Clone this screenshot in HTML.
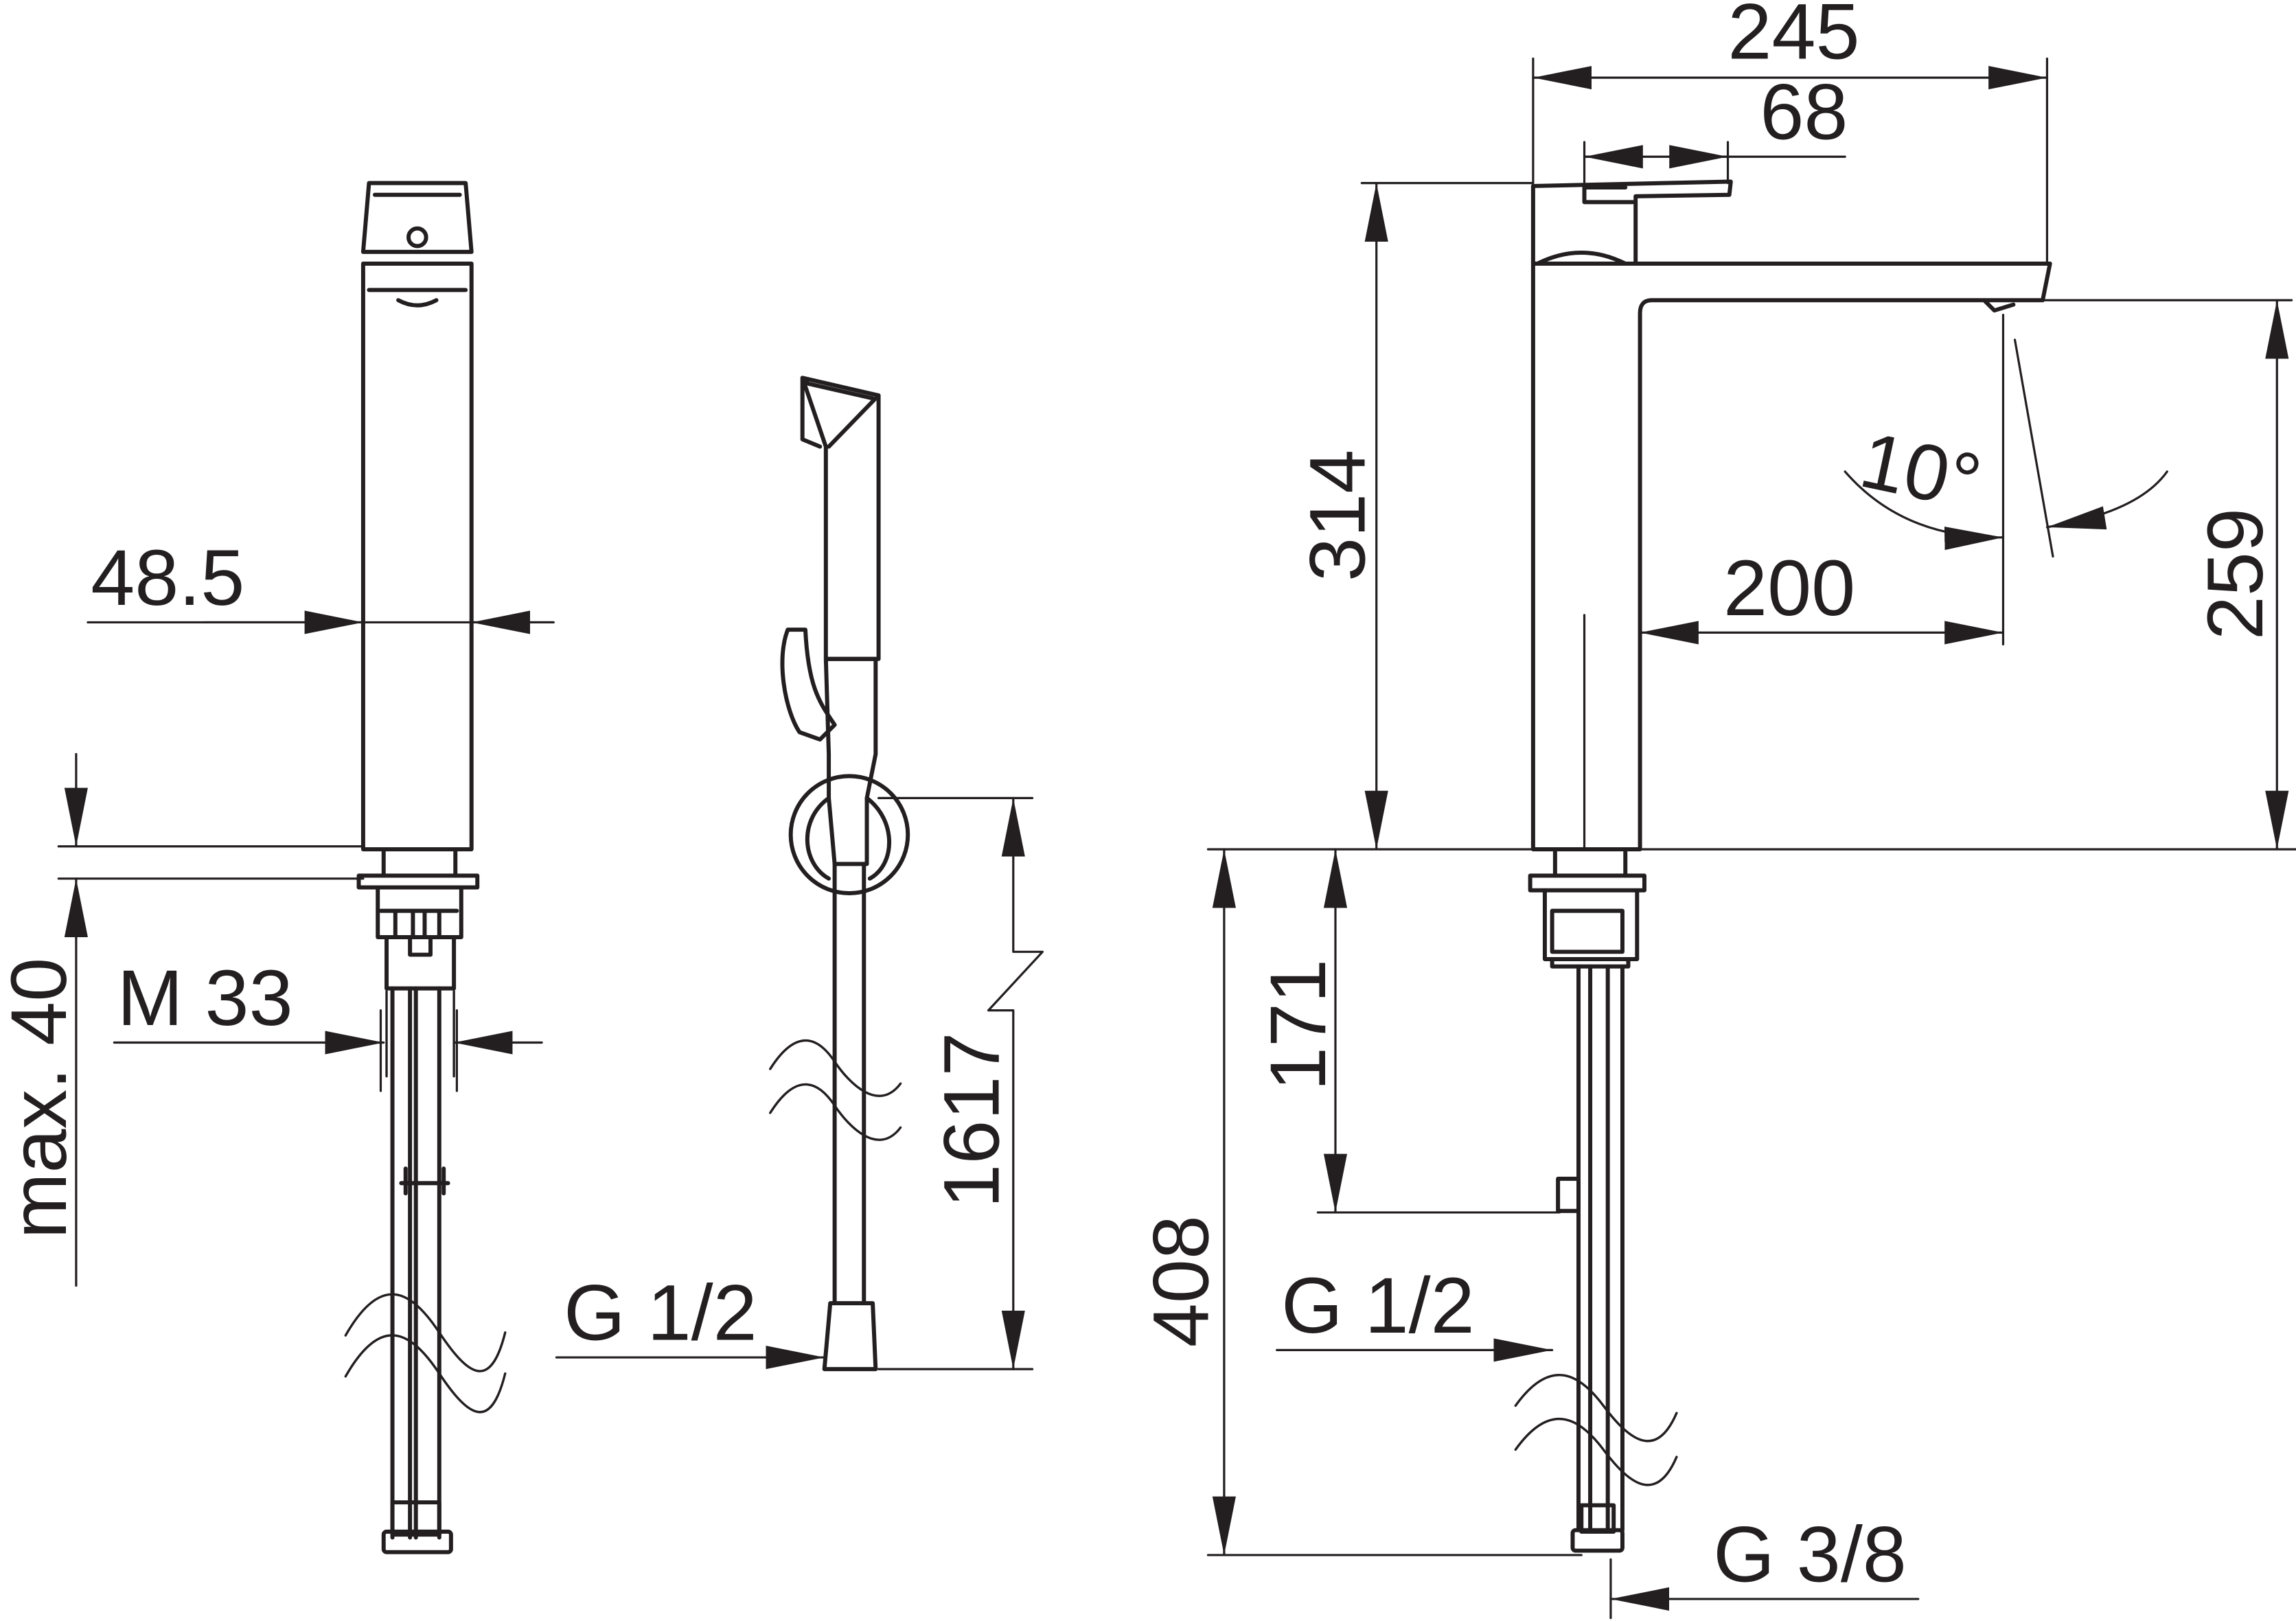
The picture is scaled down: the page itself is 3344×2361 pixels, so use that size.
<!DOCTYPE html>
<html><head><meta charset="utf-8"><style>
html,body{margin:0;padding:0;background:#fff}
svg{display:block}
text{font-family:"Liberation Sans",sans-serif;fill:#231f20}
</style></head><body>
<svg width="3344" height="2361" viewBox="0 0 1568 1107" xmlns="http://www.w3.org/2000/svg">
<defs>
<marker id="a" viewBox="0 0 40 16" refX="40" refY="8" markerWidth="40" markerHeight="18" markerUnits="userSpaceOnUse" orient="auto-start-reverse">
<path d="M0 0 L40 8 L0 16 Z" fill="#231f20"/></marker>
</defs>
<g fill="none" stroke="#231f20" stroke-linejoin="round" stroke-linecap="round">
<!-- ===== LEFT FAUCET ===== -->
<g stroke-width="2.8">
<path d="M252 125 L318 125 L322 172 L248 172 Z"/>
<path d="M256 133 L314 133"/>
<circle cx="285" cy="162" r="6"/>
<rect x="248" y="180" width="74" height="400"/>
<path d="M252 198 L318 198 M272 205 Q285 212 298 205"/>
<path d="M262 580 L262 598 M311 580 L311 598"/>
<rect x="245" y="598" width="81" height="8"/>
<path d="M258 606 L258 640 L315 640 L315 606"/>
<path d="M260 622 L312 622 M270 622 V640 M282 622V640 M290 622V640 M300 622V640"/>
<rect x="280" y="640" width="14" height="12"/>
<path d="M264 640 L264 675 L310 675 L310 640"/>
<path d="M268 675 V1050 M280 675 V1050 M284 675 V1050 M300 675 V1050"/>
<path d="M277 798 V815 M303 798 V815 M274 808 H306"/>
<rect x="268" y="1026" width="32" height="22"/>
<rect x="262" y="1046" width="46" height="14" rx="2"/>
</g>
<g stroke-width="1.6">
<path d="M264 677 V735 M310 677 V735"/>
<path d="M236 912 C260 870 280 880 300 910 S335 950 345 910"/>
<path d="M236 940 C260 898 280 908 300 938 S335 978 345 938"/>
</g>
<g stroke-width="1.5">
<path d="M60 425 H378"/>
<path d="M140 425 H248" marker-end="url(#a)"/>
<path d="M378 425 H322" marker-end="url(#a)"/>
<path d="M40 578 H248 M40 600 H248"/>
<path d="M52 515 V578" marker-end="url(#a)"/>
<path d="M52 878 V600" marker-end="url(#a)"/>
<path d="M78 712 H262" marker-end="url(#a)"/>
<path d="M370 712 H310" marker-end="url(#a)"/>
<path d="M260 690 V745 M312 690 V745"/>
</g>
<!-- ===== SHOWER ===== -->
<g stroke-width="2.8">
<path d="M548 258 L600 270 L600 450 L564 450 L564 305 Z"/>
<path d="M548 258 L548 300 L560 305 M548 258 L552 262 L596 272"/>
<path d="M566 305 L598 272"/>
<path d="M564 450 L598 450 L598 515 L592 545 L592 590 L570 590 L566 545 L566 515 Z"/>
<path d="M538 430 C530 450 536 485 546 500 L560 505 L570 495 C560 480 552 470 550 430 Z"/>
<circle cx="580" cy="570" r="40"/>
<path d="M566 545 C545 560 548 590 566 600 M592 545 C612 560 612 590 594 600"/>
<path d="M570 590 V890 M590 590 V890"/>
<path d="M567 890 L596 890 L598 935 L563 935 Z"/>
</g>
<g stroke-width="1.6">
<path d="M526 730 C545 700 560 710 570 725 S600 760 615 740"/>
<path d="M526 760 C545 730 560 740 570 755 S600 790 615 770"/>
</g>
<g stroke-width="1.5">
<path d="M600 545 H705 M600 935 H705"/>
<path d="M692 545 V650 L712 650 L675 690 L692 690 V935" marker-start="url(#a)" marker-end="url(#a)"/>
<path d="M380 927 H563" marker-end="url(#a)"/>
</g>
<!-- ===== RIGHT FAUCET ===== -->
<g stroke-width="2.8">
<path d="M1047 127 L1182 124 L1181 133 L1117 134 L1117 180"/>
<path d="M1082 128 H1110 M1082 128 V138 H1115"/>
<path d="M1047 127 L1047 580 L1120 580 L1120 214 Q1120 205 1128 205 L1395 205 L1400 180 L1047 180"/>
<path d="M1050 180 Q1080 165 1110 180"/>
<path d="M1062 580 V598 M1110 580 V598"/>
<rect x="1045" y="598" width="78" height="10"/>
<path d="M1055 608 V655 H1118 V608"/>
<rect x="1060" y="622" width="48" height="28"/>
<path d="M1060 655 V660 H1112 V655"/>
<path d="M1078 660 V1045 M1086 660 V1045 M1098 660 V1045 M1108 660 V1045"/>
<rect x="1064" y="805" width="14" height="22"/>
<rect x="1080" y="1028" width="22" height="18"/>
<rect x="1074" y="1045" width="34" height="14" rx="2"/>
<path d="M1355 205 L1362 212 L1375 208"/>
</g>
<g stroke-width="1.6">
<path d="M1035 960 C1060 925 1080 940 1095 960 S1130 1000 1145 965"/>
<path d="M1035 990 C1060 955 1080 970 1095 990 S1130 1030 1145 995"/>
</g>
<g stroke-width="1.5">
<path d="M1047 40 V125 M1398 40 V180"/>
<path d="M1047 53 H1398" marker-start="url(#a)" marker-end="url(#a)"/>
<path d="M1082 97 V125 M1180 97 V125"/>
<path d="M1082 107 H1260"/>
<path d="M1120 107 H1082" marker-end="url(#a)"/>
<path d="M1140 107 H1180" marker-end="url(#a)"/>
<path d="M930 125 H1047"/>
<path d="M825 580 H1568"/>
<path d="M940 125 V580" marker-start="url(#a)" marker-end="url(#a)"/>
<path d="M1395 205 H1565"/>
<path d="M1555 205 V580" marker-start="url(#a)" marker-end="url(#a)"/>
<path d="M1082 420 V580"/>
<path d="M1368 215 V440"/>
<path d="M1376 232 L1402 380"/>
<path d="M1120 432 H1368" marker-start="url(#a)" marker-end="url(#a)"/>
<path d="M1260 322 Q1300 368 1368 367" marker-end="url(#a)"/>
<path d="M1480 322 Q1460 350 1398 360" marker-end="url(#a)"/>
<path d="M836 580 V1062" marker-start="url(#a)" marker-end="url(#a)"/>
<path d="M825 1062 H1080"/>
<path d="M912 580 V828" marker-start="url(#a)" marker-end="url(#a)"/>
<path d="M900 828 H1065"/>
<path d="M872 922 H1060" marker-end="url(#a)"/>
<path d="M1100 1065 V1105"/>
<path d="M1310 1092 H1100" marker-end="url(#a)"/>
</g>
</g>
<!-- TEXT -->
<g font-size="54">
<text x="62" y="413">48.5</text>
<text x="80" y="700">M 33</text>
<text x="45" y="750" transform="rotate(-90 45 750)" text-anchor="middle">max. 40</text>
<text x="385" y="915">G 1/2</text>
<text x="682" y="765" transform="rotate(-90 682 765)" text-anchor="middle">1617</text>
<text x="1225" y="40" text-anchor="middle">245</text>
<text x="1232" y="95" text-anchor="middle">68</text>
<text x="932" y="352" transform="rotate(-90 932 352)" text-anchor="middle">314</text>
<text x="1545" y="392" transform="rotate(-90 1545 392)" text-anchor="middle">259</text>
<text x="1222" y="420" text-anchor="middle">200</text>
<text x="1310" y="340" transform="rotate(12 1310 330)" text-anchor="middle">10°</text>
<text x="825" y="875" transform="rotate(-90 825 875)" text-anchor="middle">408</text>
<text x="905" y="700" transform="rotate(-90 905 700)" text-anchor="middle">171</text>
<text x="875" y="910">G 1/2</text>
<text x="1170" y="1080">G 3/8</text>
</g>
</svg>
</body></html>
